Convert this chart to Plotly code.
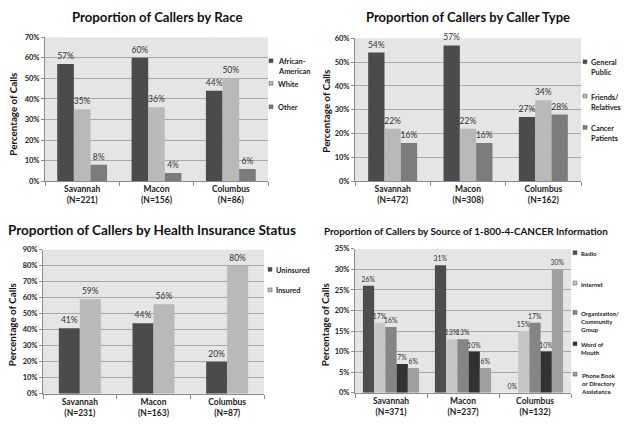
import plotly.graph_objects as go

W, H = 626, 432

# ---------------- data ----------------
race_cats = ["Savannah<br>(N=221)", "Macon<br>(N=156)", "Columbus<br>(N=86)"]
race_african_american = [0.57, 0.60, 0.44]
race_white = [0.35, 0.36, 0.50]
race_other = [0.08, 0.04, 0.06]

type_cats = ["Savannah<br>(N=472)", "Macon<br>(N=308)", "Columbus<br>(N=162)"]
type_general_public = [0.54, 0.57, 0.27]
type_friends_relatives = [0.22, 0.22, 0.34]
type_cancer_patients = [0.16, 0.16, 0.28]

ins_cats = ["Savannah<br>(N=231)", "Macon<br>(N=163)", "Columbus<br>(N=87)"]
ins_uninsured = [0.41, 0.44, 0.20]
ins_insured = [0.59, 0.56, 0.80]

src_cats = ["Savannah<br>(N=371)", "Macon<br>(N=237)", "Columbus<br>(N=132)"]
src_radio = [0.26, 0.31, 0.00]
src_internet = [0.17, 0.13, 0.15]
src_organization = [0.16, 0.13, 0.17]
src_word_of_mouth = [0.07, 0.10, 0.10]
src_phone_book = [0.06, 0.06, 0.30]

# ---------------- styling ----------------
FONT = "Lato, 'Open Sans', sans-serif"
DARK = "#4b4b4b"
LIGHT = "#b9b9b9"
MED = "#7c7c7c"
PLOT_BG = "#e5e5e5"
GRID = "#a8a8a8"


def px_x(p):
    return p / W


def px_y(p):
    return 1 - p / H


panels = [
    dict(xa="x", ya="y", cats=race_cats,
         series=[("African-American", race_african_american, DARK),
                 ("White", race_white, LIGHT),
                 ("Other", race_other, MED)],
         dom_x=(45, 268), dom_y=(34, 181), rng=0.7, dtick=0.1, fill=0.67, lab=8.5),
    dict(xa="x2", ya="y2", cats=type_cats,
         series=[("General Public", type_general_public, DARK),
                 ("Friends/Relatives", type_friends_relatives, LIGHT),
                 ("Cancer Patients", type_cancer_patients, MED)],
         dom_x=(355, 581), dom_y=(35, 181), rng=0.6, dtick=0.1, fill=0.65, lab=8.5),
    dict(xa="x3", ya="y3", cats=ins_cats,
         series=[("Uninsured", ins_uninsured, DARK),
                 ("Insured", ins_insured, LIGHT)],
         dom_x=(43, 264), dom_y=(251, 398), rng=0.9, dtick=0.1, fill=0.57, lab=8.5),
    dict(xa="x4", ya="y4", cats=src_cats,
         series=[("Radio", src_radio, "#4d4d4d"),
                 ("Internet", src_internet, "#c6c6c6"),
                 ("Organization/Community Group", src_organization, "#858585"),
                 ("Word of Mouth", src_word_of_mouth, "#323232"),
                 ("Phone Book or Directory Assistance", src_phone_book, "#a0a0a0")],
         dom_x=(355, 571), dom_y=(250, 397), rng=0.35, dtick=0.05, fill=0.78, lab=6.8),
]

fig = go.Figure()
layout = dict(
    width=W, height=H, margin=dict(l=0, r=0, t=0, b=0),
    paper_bgcolor="white", plot_bgcolor=PLOT_BG,
    showlegend=False, barmode="overlay", font=dict(family=FONT, color="#222"),
)

for i, p in enumerate(panels):
    n = len(p["series"])
    bw = p["fill"] / n
    for k, (name, vals, col) in enumerate(p["series"]):
        fig.add_trace(go.Bar(
            x=p["cats"], y=vals, name=name, marker=dict(color=col, line=dict(width=0)),
            xaxis=p["xa"], yaxis=p["ya"],
            width=bw, offset=-p["fill"] / 2 + k * bw,
            text=vals, texttemplate="%{y:.0%}", textposition="outside",
            constraintext="none",
            textfont=dict(size=p["lab"], color="#333", family=FONT),
            cliponaxis=False,
        ))
    suffix = "" if i == 0 else str(i + 1)
    layout["xaxis" + suffix] = dict(
        domain=[px_x(p["dom_x"][0]), px_x(p["dom_x"][1])],
        anchor="y" + suffix, type="category", range=[-0.5, 2.5],
        showline=True, linecolor="#8a8a8a", linewidth=1,
        ticks="outside", tickson="boundaries", ticklen=4, tickcolor="#8a8a8a",
        tickfont=dict(size=8.5, color="#222", family=FONT, weight="bold"),
        showgrid=False,
    )
    layout["yaxis" + suffix] = dict(
        domain=[px_y(p["dom_y"][1]), px_y(p["dom_y"][0])],
        anchor="x" + suffix, range=[0, p["rng"]], dtick=p["dtick"],
        tickformat=".0%", showline=True, linecolor="#8a8a8a", linewidth=1,
        ticks="outside", ticklen=3, tickcolor="#8a8a8a",
        gridcolor=GRID, gridwidth=1, zeroline=False,
        tickfont=dict(size=7.5, color="#222", family=FONT, weight="bold"),
    )

fig.update_layout(**layout)

# titles
titles = [
    ("Proportion of Callers by Race", 157, 13, 13.2),
    ("Proportion of Callers by Caller Type", 468, 13, 13),
    ("Proportion of Callers by Health Insurance Status", 152, 231, 13.5),
    ("Proportion of Callers by Source of 1-800-4-CANCER Information", 466, 232, 9.9),
]
for t, x, y, s in titles:
    fig.add_annotation(text=t, x=px_x(x), y=px_y(y), xref="paper", yref="paper",
                       showarrow=False, xanchor="center", yanchor="middle",
                       font=dict(size=s, family=FONT, color="#111", weight="bold"))

# y axis titles
for x, y in [(13, 113), (326, 110), (12, 328), (325, 328)]:
    fig.add_annotation(text="Percentage of Calls", x=px_x(x), y=px_y(y),
                       xref="paper", yref="paper", showarrow=False, textangle=-90,
                       xanchor="center", yanchor="middle",
                       font=dict(size=9.8, family=FONT, color="#111", weight="bold"))

# legends (compact, Excel-like)
legend_items = [
    # (square x, text x, square y, text, color, size)
    (271, 276, 58, "African-<br>American", DARK, 7.4),
    (271, 276, 81, "White", LIGHT, 7.4),
    (271, 276, 105, "Other", MED, 7.4),
    (585, 589, 59, "General<br>Public", DARK, 7.4),
    (585, 589, 94, "Friends/<br>Relatives", LIGHT, 7.4),
    (585, 589, 126, "Cancer<br>Patients", MED, 7.4),
    (270, 274, 271, "Uninsured", DARK, 7.4),
    (270, 274, 292, "Insured", LIGHT, 7.4),
    (575, 579, 254, "Radio", "#4d4d4d", 6.1),
    (575, 579, 285, "Internet", "#c6c6c6", 6.1),
    (575, 579, 315, "Organization/<br>Community<br>Group", "#858585", 6.1),
    (575, 579, 347, "Word of<br>Mouth", "#323232", 6.1),
    (575, 579, 378, "Phone Book<br>or Directory<br>Assistance", "#a0a0a0", 6.1),
]
for sx, tx, sy, txt, col, s in legend_items:
    fig.add_shape(type="rect", xref="paper", yref="paper",
                  x0=px_x(sx - 2), x1=px_x(sx + 2), y0=px_y(sy + 2), y1=px_y(sy - 2),
                  fillcolor=col, line=dict(width=0.5, color="#555"))
    fig.add_annotation(text=txt, x=px_x(tx), y=px_y(sy - s * 0.75), xref="paper", yref="paper",
                       showarrow=False, xanchor="left", yanchor="top", align="left",
                       font=dict(size=s, family=FONT, color="#222", weight="bold"))

fig.write_html("out.html", config={"displayModeBar": False},
               post_script="document.body.style.margin='0';")
